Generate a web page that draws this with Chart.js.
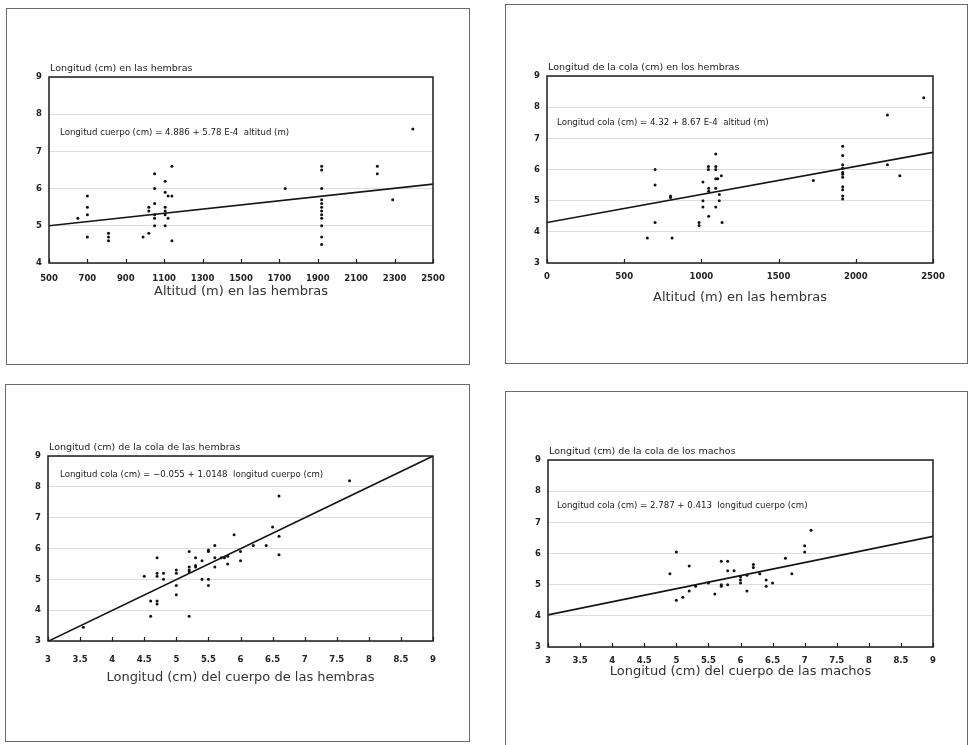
<!DOCTYPE html>
<html>
<head>
<meta charset="utf-8">
<script src="https://cdn.jsdelivr.net/npm/chart.js@4.4.1/dist/chart.umd.min.js"></script>
<style>
    html, body { margin: 0; padding: 0; background: #fff; }
    body { position: relative; width: 972px; height: 745px; overflow: hidden; }
    .box { position: absolute; border: 1px solid #6a6a6a; box-sizing: border-box; }
    canvas { position: absolute; }
</style>
</head>
<body>
<div class="box" id="b0"></div>
<div class="box" id="b1"></div>
<div class="box" id="b2"></div>
<div class="box" id="b3"></div>
<canvas id="c0"></canvas>
<canvas id="c1"></canvas>
<canvas id="c2"></canvas>
<canvas id="c3"></canvas>
<script>
// --- Data ---

// 1. Altitude vs body length (females)
const alt1 = [650, 700, 700, 700, 700, 810, 810, 810, 990, 1020, 1020, 1020,
    1050, 1050, 1050, 1050, 1050, 1050, 1105, 1105, 1105, 1105, 1105, 1105,
    1120, 1120, 1140, 1140, 1140, 1730,
    1920, 1920, 1920, 1920, 1920, 1920, 1920, 1920, 1920, 1920, 1920, 1920,
    2210, 2210, 2290, 2395];
const body1 = [5.2, 5.8, 5.5, 5.3, 4.7, 4.8, 4.7, 4.6, 4.7, 5.5, 5.4, 4.8,
    6.4, 6.0, 5.6, 5.3, 5.2, 5.0, 6.2, 5.9, 5.5, 5.4, 5.3, 5.0,
    5.8, 5.2, 5.8, 6.6, 4.6, 6.0,
    6.6, 6.5, 6.0, 5.7, 5.6, 5.5, 5.4, 5.3, 5.2, 5.0, 4.7, 4.5,
    6.6, 6.4, 5.7, 7.6];
const line1X = [500, 2500];
const line1Y = [5.0, 6.12];

// 2. Altitude vs tail length (females)
const alt2 = [650, 700, 700, 700, 800, 800, 810, 985, 985, 1010, 1010, 1010,
    1045, 1045, 1047, 1047, 1047, 1093, 1093, 1093, 1093, 1106, 1093, 1093,
    1116, 1116, 1129, 1134, 1725,
    1915, 1915, 1915, 1915, 1915, 1915, 1915, 1915, 1915, 1915, 1915,
    2205, 2205, 2285, 2440];
const tail2 = [3.8, 6.0, 5.5, 4.3, 5.15, 5.1, 3.8, 4.3, 4.2, 5.6, 5.0, 4.8,
    6.1, 6.0, 5.4, 5.3, 4.5, 6.5, 6.1, 6.0, 5.7, 5.7, 5.4, 4.8,
    5.2, 5.0, 5.8, 4.3, 5.65,
    6.75, 6.45, 6.15, 6.05, 5.9, 5.85, 5.75, 5.45, 5.35, 5.15, 5.05,
    7.75, 6.15, 5.8, 8.3];
const line2X = [0, 2500];
const line2Y = [4.3, 6.55];

// 3. Body vs tail length (females)
const body3 = [3.55, 4.5, 4.7, 4.7, 4.7, 4.8, 4.8, 4.6, 4.7, 4.7, 4.6,
    5.0, 5.0, 5.0, 5.0, 5.2, 5.2, 5.2, 5.2, 5.2, 5.3, 5.3, 5.3, 5.4, 5.4,
    5.5, 5.5, 5.5, 5.5, 5.6, 5.6, 5.6, 5.7, 5.75, 5.8, 5.8, 5.9, 6.0, 6.0,
    6.2, 6.4, 6.5, 6.6, 6.6, 6.6, 7.7];
const tail3 = [3.45, 5.1, 5.7, 5.2, 5.1, 5.2, 5.0, 4.3, 4.3, 4.2, 3.8,
    5.3, 5.2, 4.8, 4.5, 5.9, 5.4, 5.3, 5.25, 3.8, 5.7, 5.45, 5.4, 5.6, 5.0,
    5.95, 5.9, 5.0, 4.8, 6.1, 5.7, 5.4, 5.7, 5.7, 5.75, 5.5, 6.45, 5.9, 5.6,
    6.1, 6.1, 6.7, 7.7, 6.4, 5.8, 8.2];
const line3X = [3, 9];
const line3Y = [2.99, 9.0];

// 4. Body vs tail length (males)
const body4 = [4.9, 5.0, 5.0, 5.1, 5.2, 5.2, 5.3, 5.5, 5.6, 5.7, 5.7, 5.7,
    5.8, 5.8, 5.8, 5.9, 6.0, 6.0, 6.0, 6.1, 6.1, 6.2, 6.2, 6.3, 6.4, 6.4,
    6.5, 6.7, 6.8, 7.0, 7.0, 7.1];
const tail4 = [5.35, 6.05, 4.5, 4.6, 5.6, 4.8, 4.95, 5.05, 4.7, 5.75, 5.0, 4.95,
    5.75, 5.45, 5.0, 5.45, 5.25, 5.15, 5.05, 5.3, 4.8, 5.65, 5.55, 5.35, 5.15, 4.95,
    5.05, 5.85, 5.35, 6.25, 6.05, 6.75];
const line4X = [3, 9];
const line4Y = [4.03, 6.55];

// Texts
const headers = [
    'Longitud (cm) en las hembras',
    'Longitud de la cola (cm) en los hembras',
    'Longitud (cm) de la cola de las hembras',
    'Longitud (cm) de la cola de los machos'
];
const equations = [
    'Longitud cuerpo (cm) = 4.886 + 5.78 E-4  altitud (m)',
    'Longitud cola (cm) = 4.32 + 8.67 E-4  altitud (m)',
    'Longitud cola (cm) = \u22120.055 + 1.0148  longitud cuerpo (cm)',
    'Longitud cola (cm) = 2.787 + 0.413  longitud cuerpo (cm)'
];
const xTitles = [
    'Altitud (m) en las hembras',
    'Altitud (m) en las hembras',
    'Longitud (cm) del cuerpo de las hembras',
    'Longitud (cm) del cuerpo de las machos'
];

// Page layout (pixels): outer box, plot area, text anchors
const LAYOUT = [
    { box: { x: 6, y: 8, w: 464, h: 357 }, plot: { l: 49, t: 77, r: 433, b: 263 }, tickY: 279, titleY: 292, eq: { x: 60, y: 133 } },
    { box: { x: 505, y: 4, w: 463, h: 360 }, plot: { l: 547, t: 76, r: 933, b: 263 }, tickY: 277, titleY: 298, eq: { x: 557, y: 123 } },
    { box: { x: 5, y: 384, w: 465, h: 358 }, plot: { l: 48, t: 456, r: 433, b: 641 }, tickY: 660, titleY: 678, eq: { x: 60, y: 475 } },
    { box: { x: 505, y: 391, w: 463, h: 356 }, plot: { l: 548, t: 460, r: 933, b: 647 }, tickY: 661, titleY: 672, eq: { x: 557, y: 506 } }
];

const FONT = '"DejaVu Sans", sans-serif';

// Frame, inward ticks, tick labels and texts
const annotate = {
    id: 'annotate',
    afterDraw(chart) {
        const o = chart.options.plugins.annotate;
        const ctx = chart.ctx, a = chart.chartArea;
        const xs = chart.scales.x, ys = chart.scales.y;
        ctx.save();
        ctx.strokeStyle = '#1c1c1c';
        ctx.lineWidth = 1.5;
        ctx.strokeRect(a.left, a.top, a.right - a.left, a.bottom - a.top);

        ctx.lineWidth = 1.2;
        ctx.beginPath();
        xs.ticks.forEach((t, i) => {
            const px = Math.round(xs.getPixelForTick(i)) + 0.5;
            ctx.moveTo(px, a.bottom);
            ctx.lineTo(px, a.bottom - 4);
        });
        ctx.stroke();

        // tick labels
        ctx.fillStyle = '#222';
        ctx.font = 'bold 8.5px ' + FONT;
        ctx.textBaseline = 'middle';
        ctx.textAlign = 'center';
        xs.ticks.forEach((t, i) => {
            ctx.fillText(String(t.value), xs.getPixelForTick(i), o.tickY);
        });
        ctx.textAlign = 'right';
        ys.ticks.forEach((t, i) => {
            ctx.fillText(String(t.value), a.left - 7, ys.getPixelForTick(i));
        });

        ctx.textAlign = 'left';
        ctx.textBaseline = 'alphabetic';
        ctx.font = '9.5px ' + FONT;
        ctx.fillText(o.header, a.left + 1, a.top - 6);

        ctx.textBaseline = 'middle';
        ctx.font = '8.6px ' + FONT;
        ctx.fillText(o.equation, o.eqX, o.eqY);

        ctx.textAlign = 'center';
        ctx.font = '13px ' + FONT;
        ctx.fillStyle = '#333';
        ctx.fillText(o.xTitle, (a.left + a.right) / 2, o.titleY);
        ctx.restore();
    }
};

function makePanel(i, xs, ys, lx, ly, xMin, xMax, xStep, yMin) {
    const L = LAYOUT[i];
    const box = document.getElementById('b' + i);
    Object.assign(box.style, { left: L.box.x + 'px', top: L.box.y + 'px', width: L.box.w + 'px', height: L.box.h + 'px' });
    const cv = document.getElementById('c' + i);
    cv.width = L.box.w; cv.height = L.box.h;
    Object.assign(cv.style, { left: L.box.x + 'px', top: L.box.y + 'px', width: L.box.w + 'px', height: L.box.h + 'px' });

    const pts = xs.map((x, k) => ({ x: x, y: ys[k] }));
    const reg = lx.map((x, k) => ({ x: x, y: ly[k] }));

    return new Chart(cv.getContext('2d'), {
        type: 'scatter',
        data: {
            datasets: [{
                data: pts,
                backgroundColor: '#111',
                borderWidth: 0,
                pointRadius: 1.5
            }, {
                data: reg,
                showLine: true,
                borderColor: '#151515',
                borderWidth: 1.6,
                pointRadius: 0
            }]
        },
        options: {
            responsive: false,
            animation: false,
            events: [],
            layout: {
                padding: {
                    left: L.plot.l - L.box.x,
                    top: L.plot.t - L.box.y,
                    right: L.box.x + L.box.w - L.plot.r,
                    bottom: L.box.y + L.box.h - L.plot.b
                }
            },
            scales: {
                x: {
                    type: 'linear', min: xMin, max: xMax,
                    afterFit: s => { s.height = 0; },
                    grid: { display: false },
                    border: { display: false },
                    ticks: { stepSize: xStep, autoSkip: false, display: false }
                },
                y: {
                    type: 'linear', min: yMin, max: 9,
                    afterFit: s => { s.width = 0; },
                    grid: { color: 'rgba(0,0,0,0.13)', drawTicks: false },
                    border: { display: false },
                    ticks: { stepSize: 1, display: false }
                }
            },
            plugins: {
                legend: { display: false },
                tooltip: { enabled: false },
                annotate: {
                    header: headers[i],
                    equation: equations[i],
                    xTitle: xTitles[i],
                    eqX: L.eq.x - L.box.x,
                    eqY: L.eq.y - L.box.y,
                    tickY: L.tickY - L.box.y,
                    titleY: L.titleY - L.box.y
                }
            }
        },
        plugins: [annotate]
    });
}

makePanel(0, alt1, body1, line1X, line1Y, 500, 2500, 200, 4);
makePanel(1, alt2, tail2, line2X, line2Y, 0, 2500, 500, 3);
makePanel(2, body3, tail3, line3X, line3Y, 3, 9, 0.5, 3);
makePanel(3, body4, tail4, line4X, line4Y, 3, 9, 0.5, 3);
</script>
</body>
</html>
